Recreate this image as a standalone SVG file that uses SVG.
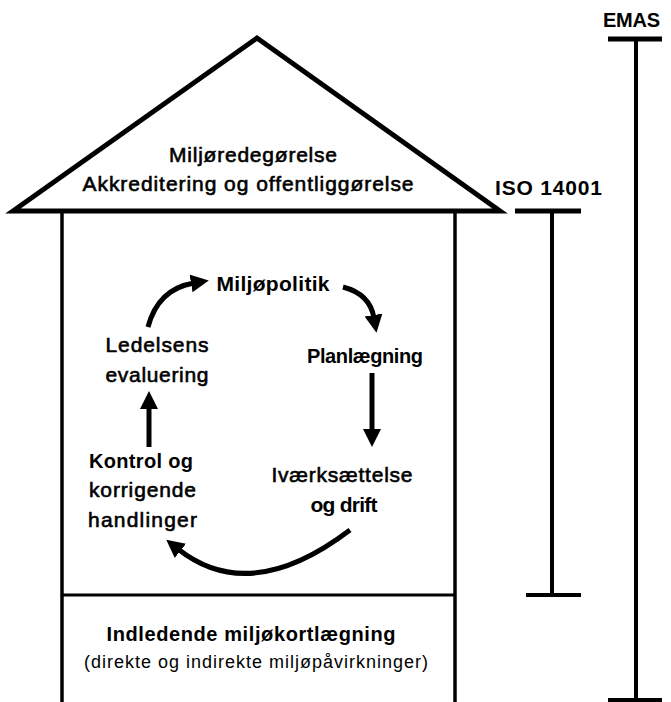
<svg xmlns="http://www.w3.org/2000/svg" width="671" height="702" viewBox="0 0 671 702">
  <style>
    .line { fill: none; stroke: #000; stroke-linecap: butt; }
    .t { font-family: "Liberation Sans", Arial, sans-serif; fill: #000; }
    .b { font-weight: bold; }
    .m { stroke: #000; stroke-width: 0.6; }
    .arrow { fill: none; stroke: #000; stroke-width: 5; }
  </style>
  <defs>
    <marker id="head" markerUnits="userSpaceOnUse" markerWidth="20" markerHeight="20" refX="3" refY="9" orient="auto">
      <path d="M0,0 L18,9 L0,18 Z" fill="#000"/>
    </marker>
  </defs>
  <rect width="671" height="702" fill="#fff"/>

  <!-- Roof -->
  <g id="roof">
    <polygon points="13,211 257,38 500,211" fill="#fff" stroke="#000" stroke-width="5" stroke-linejoin="miter"/>
    <text class="t m" x="253" y="162" font-size="21" text-anchor="middle" textLength="168" lengthAdjust="spacing">Miljøredegørelse</text>
    <text class="t m" x="248" y="191" font-size="21" text-anchor="middle" textLength="331" lengthAdjust="spacing">Akkreditering og offentliggørelse</text>
  </g>

  <!-- House walls -->
  <g id="house">
    <line class="line" x1="62" y1="211" x2="62" y2="702" stroke-width="3.5"/>
    <line class="line" x1="455" y1="211" x2="455" y2="702" stroke-width="3.5"/>
    <line class="line" x1="62" y1="595" x2="455" y2="595" stroke-width="3"/>
  </g>

  <!-- Foundation -->
  <g id="foundation">
    <text class="t b" x="251" y="641" font-size="20" text-anchor="middle" textLength="289" lengthAdjust="spacing">Indledende miljøkortlægning</text>
    <text class="t" x="256" y="668" font-size="18" text-anchor="middle" textLength="344" lengthAdjust="spacing">(direkte og indirekte miljøpåvirkninger)</text>
  </g>

  <!-- Cycle steps -->
  <g id="miljopolitik">
    <text class="t b" x="273" y="291" font-size="21" text-anchor="middle" textLength="113" lengthAdjust="spacing">Miljøpolitik</text>
  </g>
  <g id="planlaegning">
    <text class="t b" x="365" y="363" font-size="20" text-anchor="middle" textLength="116" lengthAdjust="spacing">Planlægning</text>
  </g>
  <g id="ivaerksaettelse">
    <text class="t m" x="342" y="482" font-size="21" text-anchor="middle" textLength="141" lengthAdjust="spacing">Iværksættelse</text>
    <text class="t b" x="344" y="512" font-size="21" text-anchor="middle" textLength="67" lengthAdjust="spacing">og drift</text>
  </g>
  <g id="kontrol">
    <text class="t b" x="89" y="468" font-size="20" textLength="104" lengthAdjust="spacing">Kontrol og</text>
    <text class="t m" x="89" y="497" font-size="21" textLength="107" lengthAdjust="spacing">korrigende</text>
    <text class="t m" x="88" y="527" font-size="21" textLength="109" lengthAdjust="spacing">handlinger</text>
  </g>
  <g id="ledelsens">
    <text class="t m" x="157" y="352" font-size="21" text-anchor="middle" textLength="103" lengthAdjust="spacing">Ledelsens</text>
    <text class="t m" x="157" y="382" font-size="21" text-anchor="middle" textLength="103" lengthAdjust="spacing">evaluering</text>
  </g>

  <!-- Standard scopes -->
  <g id="iso14001">
    <text class="t b" x="495" y="195" font-size="21" textLength="107" lengthAdjust="spacing">ISO 14001</text>
    <line class="line" x1="515" y1="211" x2="581" y2="211" stroke-width="5"/>
    <line class="line" x1="552" y1="211" x2="552" y2="595" stroke-width="4"/>
    <line class="line" x1="526" y1="595" x2="581" y2="595" stroke-width="4"/>
  </g>
  <g id="emas">
    <text class="t b" x="603" y="27" font-size="20" textLength="57" lengthAdjust="spacing">EMAS</text>
    <line class="line" x1="608" y1="39" x2="662" y2="39" stroke-width="5"/>
    <line class="line" x1="636" y1="39" x2="636" y2="702" stroke-width="4"/>
    <line class="line" x1="608" y1="700" x2="662" y2="700" stroke-width="4"/>
  </g>

  <!-- Cycle connectors -->
  <g id="connectors">
    <path class="arrow" d="M148,327 Q158,289 194,283" marker-end="url(#head)"/>
    <path class="arrow" d="M343,287 Q370,294 374,318" marker-end="url(#head)"/>
    <path class="arrow" d="M372,373 L372,432" marker-end="url(#head)"/>
    <path class="arrow" d="M149,447 L149,406" marker-end="url(#head)"/>
    <path class="arrow" d="M350,530 Q250,606 178,549" marker-end="url(#head)"/>
  </g>
</svg>
